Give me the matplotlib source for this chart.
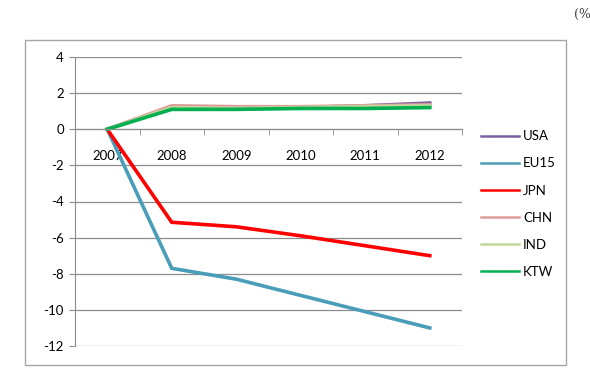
import matplotlib.pyplot as plt
from matplotlib.patches import Rectangle

years = ['2007', '2008', '2009', '2010', '2011', '2012']
usa = [0, 1.2, 1.15, 1.2, 1.3, 1.45]
eu15 = [0, -7.7, -8.3, -9.2, -10.1, -11.0]
jpn = [0, -5.15, -5.4, -5.9, -6.45, -7.0]
chn = [0, 1.3, 1.25, 1.25, 1.3, 1.35]
ind = [0, 1.2, 1.15, 1.2, 1.25, 1.3]
ktw = [0, 1.1, 1.1, 1.15, 1.15, 1.2]

series = [('USA', usa, '#7D60A0'), ('EU15', eu15, '#4A9DB8'),
          ('JPN', jpn, '#FF0000'), ('CHN', chn, '#DE9C9A'),
          ('IND', ind, '#C3D69B'), ('KTW', ktw, '#00B050')]

plt.rcParams['font.family'] = ['Lato', 'DejaVu Sans']
plt.rcParams['axes.unicode_minus'] = False

fig = plt.figure(figsize=(5.9, 3.79), dpi=100)
fig.patches.append(Rectangle((25/590, 1-365/379), 541/590, 325/379,
                             transform=fig.transFigure, fill=False,
                             edgecolor='#A6A6A6', lw=1))
fig.text(574/590, 1-14/379, '(%', fontsize=9, color='#444444',
         family='DejaVu Serif', ha='left', va='center')

ax = fig.add_axes([75/590, 1-346/379, 387/590, 289/379])
x = list(range(len(years)))
for name, vals, col in series:
    ax.plot(x, vals, color=col, lw=2.6, label=name, solid_joinstyle='miter')

ax.set_xlim(-0.5, 5.5)
ax.set_ylim(-12, 4)
ax.set_yticks(range(-12, 5, 2))
ax.yaxis.grid(True, color='#8C8C8C', lw=0.9)
ax.set_axisbelow(True)
ax.set_xticks(x)
ax.set_xticklabels(years)
ax.set_xticks([i - 0.5 for i in range(7)], minor=True)
ax.tick_params(axis='x', which='major', length=0, pad=15, labelsize=9.5)
ax.tick_params(axis='x', which='minor', length=4, color='#8C8C8C', direction='out')
ax.tick_params(axis='y', length=4, color='#8C8C8C', labelsize=9.5, pad=4)
ax.spines['bottom'].set_position(('data', 0))
for s in ['top', 'right']:
    ax.spines[s].set_visible(False)
for s in ['left', 'bottom']:
    ax.spines[s].set_color('#8C8C8C')

leg = ax.legend(loc='upper left', bbox_to_anchor=(1.035, 0.765), frameon=False,
                fontsize=9.5, handlelength=2.9, labelspacing=1.15,
                handletextpad=0.3, borderaxespad=0)
for line in leg.get_lines():
    line.set_linewidth(1.8)

fig.savefig('out.png', dpi=100)
